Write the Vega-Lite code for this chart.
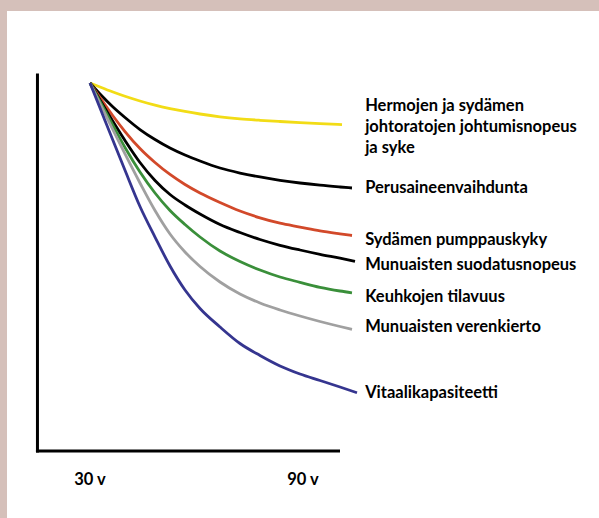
{
  "$schema": "https://vega.github.io/schema/vega-lite/v6.json",
  "width": 599,
  "height": 518,
  "autosize": {"type": "fit", "contains": "padding"},
  "padding": {"left": 7, "top": 11, "right": 0, "bottom": 0},
  "background": "#d5c0ba",
  "config": {"view": {"fill": "white", "stroke": null}},
  "datasets": {
    "curves": [
      {"series": "Hermojen", "age": 30, "value": 100},
      {"series": "Hermojen", "age": 32.82, "value": 98.91},
      {"series": "Hermojen", "age": 36.48, "value": 97.55},
      {"series": "Hermojen", "age": 39.86, "value": 96.39},
      {"series": "Hermojen", "age": 44.08, "value": 95.11},
      {"series": "Hermojen", "age": 48.31, "value": 93.97},
      {"series": "Hermojen", "age": 52.54, "value": 93.04},
      {"series": "Hermojen", "age": 56.76, "value": 92.26},
      {"series": "Hermojen", "age": 60.99, "value": 91.58},
      {"series": "Hermojen", "age": 66.62, "value": 90.82},
      {"series": "Hermojen", "age": 72.25, "value": 90.27},
      {"series": "Hermojen", "age": 77.89, "value": 89.87},
      {"series": "Hermojen", "age": 83.52, "value": 89.54},
      {"series": "Hermojen", "age": 89.15, "value": 89.24},
      {"series": "Hermojen", "age": 94.79, "value": 88.97},
      {"series": "Hermojen", "age": 100.99, "value": 88.70},
      {"series": "Perusaineenvaihdunta", "age": 30, "value": 100},
      {"series": "Perusaineenvaihdunta", "age": 32.82, "value": 97.01},
      {"series": "Perusaineenvaihdunta", "age": 36.48, "value": 93.48},
      {"series": "Perusaineenvaihdunta", "age": 39.86, "value": 90.63},
      {"series": "Perusaineenvaihdunta", "age": 44.08, "value": 87.36},
      {"series": "Perusaineenvaihdunta", "age": 48.31, "value": 84.65},
      {"series": "Perusaineenvaihdunta", "age": 52.54, "value": 82.34},
      {"series": "Perusaineenvaihdunta", "age": 56.76, "value": 80.43},
      {"series": "Perusaineenvaihdunta", "age": 60.99, "value": 78.80},
      {"series": "Perusaineenvaihdunta", "age": 66.62, "value": 76.90},
      {"series": "Perusaineenvaihdunta", "age": 72.25, "value": 75.54},
      {"series": "Perusaineenvaihdunta", "age": 77.89, "value": 74.46},
      {"series": "Perusaineenvaihdunta", "age": 83.52, "value": 73.56},
      {"series": "Perusaineenvaihdunta", "age": 89.15, "value": 72.83},
      {"series": "Perusaineenvaihdunta", "age": 94.79, "value": 72.23},
      {"series": "Perusaineenvaihdunta", "age": 100.42, "value": 71.74},
      {"series": "Perusaineenvaihdunta", "age": 103.80, "value": 71.47},
      {"series": "Sydämen pumppauskyky", "age": 30, "value": 100},
      {"series": "Sydämen pumppauskyky", "age": 32.82, "value": 96.06},
      {"series": "Sydämen pumppauskyky", "age": 36.48, "value": 91.03},
      {"series": "Sydämen pumppauskyky", "age": 39.86, "value": 86.82},
      {"series": "Sydämen pumppauskyky", "age": 44.08, "value": 82.20},
      {"series": "Sydämen pumppauskyky", "age": 48.31, "value": 78.40},
      {"series": "Sydämen pumppauskyky", "age": 52.54, "value": 75.14},
      {"series": "Sydämen pumppauskyky", "age": 56.76, "value": 72.42},
      {"series": "Sydämen pumppauskyky", "age": 60.99, "value": 70.11},
      {"series": "Sydämen pumppauskyky", "age": 66.62, "value": 67.53},
      {"series": "Sydämen pumppauskyky", "age": 72.25, "value": 65.22},
      {"series": "Sydämen pumppauskyky", "age": 77.89, "value": 63.37},
      {"series": "Sydämen pumppauskyky", "age": 83.52, "value": 61.90},
      {"series": "Sydämen pumppauskyky", "age": 89.15, "value": 60.87},
      {"series": "Sydämen pumppauskyky", "age": 94.79, "value": 59.84},
      {"series": "Sydämen pumppauskyky", "age": 100.42, "value": 59.02},
      {"series": "Sydämen pumppauskyky", "age": 103.80, "value": 58.56},
      {"series": "Munuaisten suodatusnopeus", "age": 30, "value": 100},
      {"series": "Munuaisten suodatusnopeus", "age": 32.82, "value": 95.38},
      {"series": "Munuaisten suodatusnopeus", "age": 36.48, "value": 89.54},
      {"series": "Munuaisten suodatusnopeus", "age": 39.86, "value": 84.38},
      {"series": "Munuaisten suodatusnopeus", "age": 44.08, "value": 78.40},
      {"series": "Munuaisten suodatusnopeus", "age": 48.31, "value": 73.51},
      {"series": "Munuaisten suodatusnopeus", "age": 52.54, "value": 69.70},
      {"series": "Munuaisten suodatusnopeus", "age": 56.76, "value": 66.85},
      {"series": "Munuaisten suodatusnopeus", "age": 60.99, "value": 64.40},
      {"series": "Munuaisten suodatusnopeus", "age": 66.62, "value": 61.55},
      {"series": "Munuaisten suodatusnopeus", "age": 72.25, "value": 59.38},
      {"series": "Munuaisten suodatusnopeus", "age": 77.89, "value": 57.47},
      {"series": "Munuaisten suodatusnopeus", "age": 83.52, "value": 55.90},
      {"series": "Munuaisten suodatusnopeus", "age": 89.15, "value": 54.62},
      {"series": "Munuaisten suodatusnopeus", "age": 94.79, "value": 53.45},
      {"series": "Munuaisten suodatusnopeus", "age": 100.42, "value": 52.39},
      {"series": "Munuaisten suodatusnopeus", "age": 104.65, "value": 51.55},
      {"series": "Keuhkojen tilavuus", "age": 30, "value": 100},
      {"series": "Keuhkojen tilavuus", "age": 32.82, "value": 94.97},
      {"series": "Keuhkojen tilavuus", "age": 36.48, "value": 88.45},
      {"series": "Keuhkojen tilavuus", "age": 39.86, "value": 82.47},
      {"series": "Keuhkojen tilavuus", "age": 44.08, "value": 75.82},
      {"series": "Keuhkojen tilavuus", "age": 48.31, "value": 70.11},
      {"series": "Keuhkojen tilavuus", "age": 52.54, "value": 65.35},
      {"series": "Keuhkojen tilavuus", "age": 56.76, "value": 61.55},
      {"series": "Keuhkojen tilavuus", "age": 60.99, "value": 58.15},
      {"series": "Keuhkojen tilavuus", "age": 66.62, "value": 54.35},
      {"series": "Keuhkojen tilavuus", "age": 72.25, "value": 51.49},
      {"series": "Keuhkojen tilavuus", "age": 77.89, "value": 49.18},
      {"series": "Keuhkojen tilavuus", "age": 83.52, "value": 47.28},
      {"series": "Keuhkojen tilavuus", "age": 89.15, "value": 45.84},
      {"series": "Keuhkojen tilavuus", "age": 94.79, "value": 44.48},
      {"series": "Keuhkojen tilavuus", "age": 100.42, "value": 43.48},
      {"series": "Keuhkojen tilavuus", "age": 103.80, "value": 42.99},
      {"series": "Munuaisten verenkierto", "age": 30, "value": 100},
      {"series": "Munuaisten verenkierto", "age": 32.82, "value": 94.43},
      {"series": "Munuaisten verenkierto", "age": 36.48, "value": 87.23},
      {"series": "Munuaisten verenkierto", "age": 39.86, "value": 80.71},
      {"series": "Munuaisten verenkierto", "age": 44.08, "value": 72.83},
      {"series": "Munuaisten verenkierto", "age": 48.31, "value": 65.35},
      {"series": "Munuaisten verenkierto", "age": 52.54, "value": 58.97},
      {"series": "Munuaisten verenkierto", "age": 56.76, "value": 54.08},
      {"series": "Munuaisten verenkierto", "age": 60.99, "value": 50.14},
      {"series": "Munuaisten verenkierto", "age": 66.62, "value": 45.92},
      {"series": "Munuaisten verenkierto", "age": 72.25, "value": 42.66},
      {"series": "Munuaisten verenkierto", "age": 77.89, "value": 40.22},
      {"series": "Munuaisten verenkierto", "age": 83.52, "value": 38.32},
      {"series": "Munuaisten verenkierto", "age": 89.15, "value": 36.68},
      {"series": "Munuaisten verenkierto", "age": 94.79, "value": 35.19},
      {"series": "Munuaisten verenkierto", "age": 100.42, "value": 33.83},
      {"series": "Munuaisten verenkierto", "age": 103.80, "value": 33.07},
      {"series": "Vitaalikapasiteetti", "age": 30, "value": 100},
      {"series": "Vitaalikapasiteetti", "age": 32.82, "value": 93.21},
      {"series": "Vitaalikapasiteetti", "age": 36.48, "value": 84.38},
      {"series": "Vitaalikapasiteetti", "age": 39.86, "value": 76.28},
      {"series": "Vitaalikapasiteetti", "age": 44.08, "value": 66.44},
      {"series": "Vitaalikapasiteetti", "age": 48.31, "value": 58.15},
      {"series": "Vitaalikapasiteetti", "age": 52.54, "value": 50.27},
      {"series": "Vitaalikapasiteetti", "age": 56.76, "value": 43.75},
      {"series": "Vitaalikapasiteetti", "age": 60.99, "value": 38.72},
      {"series": "Vitaalikapasiteetti", "age": 66.62, "value": 33.70},
      {"series": "Vitaalikapasiteetti", "age": 72.25, "value": 29.21},
      {"series": "Vitaalikapasiteetti", "age": 77.89, "value": 25.95},
      {"series": "Vitaalikapasiteetti", "age": 83.52, "value": 23.10},
      {"series": "Vitaalikapasiteetti", "age": 89.15, "value": 20.92},
      {"series": "Vitaalikapasiteetti", "age": 94.79, "value": 19.16},
      {"series": "Vitaalikapasiteetti", "age": 100.42, "value": 17.39},
      {"series": "Vitaalikapasiteetti", "age": 105.21, "value": 15.84}
    ],
    "labels": [
      {"label": ["Hermojen ja sydämen", "johtoratojen johtumisnopeus", "ja syke"], "age": 107.5, "value": 93.75},
      {"label": "Perusaineenvaihdunta", "age": 107.5, "value": 71.5},
      {"label": "Sydämen pumppauskyky", "age": 107.5, "value": 57.3},
      {"label": "Munuaisten suodatusnopeus", "age": 107.5, "value": 50.5},
      {"label": "Keuhkojen tilavuus", "age": 107.5, "value": 41.9},
      {"label": "Munuaisten verenkierto", "age": 107.5, "value": 33.7},
      {"label": "Vitaalikapasiteetti", "age": 107.5, "value": 15.8}
    ],
    "ticks": [
      {"label": "30 v", "age": 30, "value": -7.9},
      {"label": "90 v", "age": 90, "value": -7.9}
    ],
    "frame": [
      {"x": 15.2, "x2": 15.2, "y": 102.2, "y2": 0},
      {"x": 15.2, "x2": 100, "y": 0, "y2": 0}
    ]
  },
  "layer": [
    {
      "data": {"name": "frame"},
      "mark": {"type": "rule", "color": "black", "strokeWidth": 3, "strokeCap": "square"},
      "encoding": {
        "x": {"field": "x", "type": "quantitative", "scale": {"domain": [6.62, 173.38], "nice": false, "zero": false}, "axis": null},
        "x2": {"field": "x2"},
        "y": {"field": "y", "type": "quantitative", "scale": {"domain": [-18.21, 119.57], "nice": false, "zero": false}, "axis": null},
        "y2": {"field": "y2"}
      }
    },
    {
      "data": {"name": "curves"},
      "mark": {"type": "line", "interpolate": "monotone", "strokeWidth": 2.8, "clip": false},
      "encoding": {
        "x": {"field": "age", "type": "quantitative"},
        "y": {"field": "value", "type": "quantitative"},
        "color": {
          "field": "series",
          "type": "nominal",
          "scale": {
            "domain": ["Vitaalikapasiteetti", "Munuaisten verenkierto", "Keuhkojen tilavuus", "Munuaisten suodatusnopeus", "Sydämen pumppauskyky", "Perusaineenvaihdunta", "Hermojen"],
            "range": ["#35358f", "#a0a0a0", "#3a8f3a", "#000000", "#d2492a", "#000000", "#f2dc16"]
          },
          "legend": null
        }
      }
    },
    {
      "data": {"name": "labels"},
      "mark": {"type": "text", "align": "left", "baseline": "middle", "font": "Lato", "fontWeight": "bold", "fontSize": 16.5, "lineHeight": 21, "color": "black"},
      "encoding": {
        "x": {"field": "age", "type": "quantitative"},
        "y": {"field": "value", "type": "quantitative"},
        "text": {"field": "label"}
      }
    },
    {
      "data": {"name": "ticks"},
      "mark": {"type": "text", "align": "center", "baseline": "middle", "font": "Lato", "fontWeight": "bold", "fontSize": 16.5, "color": "black"},
      "encoding": {
        "x": {"field": "age", "type": "quantitative"},
        "y": {"field": "value", "type": "quantitative"},
        "text": {"field": "label"}
      }
    }
  ]
}
